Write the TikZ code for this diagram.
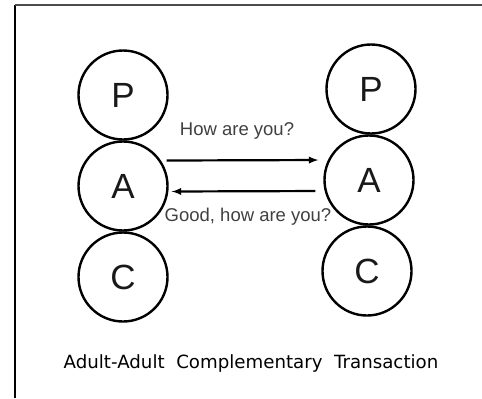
\documentclass[tikz,border=0pt]{standalone}
\usepackage{fontspec}
\setmainfont{Liberation Sans}
\newfontfamily\captionfont{DejaVu Sans}
\usetikzlibrary{%
	calc,%
	arrows
}

\begin{document}
\begin{tikzpicture}[>=latex, x=1bp, y=-1bp,
	ego/.style={circle, draw, line width=2.4bp, minimum size=89bp, inner sep=0pt,
		font=\fontsize{35bp}{35bp}\selectfont, text=black!90},
	talk/.style={->, line width=2.2bp},
	says/.style={font=\fontsize{18.5bp}{20bp}\selectfont, text=black!75, inner sep=0pt}]
				\useasboundingbox (0,0) rectangle (482,398);
				
				% Frame
				\coordinate (f0) at (15,398);
				\coordinate (f1) at (15,5);
				\coordinate (f2) at (482,5);
				\draw[line width=2.5bp] (f0) -- (f1);
				\draw[line width=2bp, black!70] (f1) -- (f2);
				
				% Ego states
				\foreach \name/\x/\y/\letter in {lP/123/95/P, lA/123/186/A, lC/123/277/C,
					rP/371/89/P, rA/369/180/A, rC/367/271/C}
				\node[ego] (\name) at (\x,\y) {\letter};
				
				% Messages
				\draw[talk, shorten <=-2bp, shorten >=5bp]
					([yshift=25.5bp]lA.east) -- ([yshift=20bp]rA.west);
				\draw[talk, shorten <=8bp, shorten >=3bp]
					([yshift=-11bp]rA.west) -- ([yshift=-5.5bp]lA.east);
				
				% Labels
				\node[says] (ask) at (237,131) {How are you?};
				\node[says] (answer) at (248,217) {Good, how are you?};
				\node[anchor=base, inner sep=0pt, font=\captionfont\fontsize{18.2bp}{20bp}\selectfont]
					(caption) at (251,368) {Adult-Adult\ \ Complementary\ \ Transaction};
			\end{tikzpicture}
\end{document}
